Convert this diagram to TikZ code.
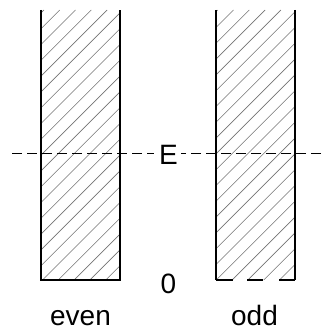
\documentclass[tikz,border=0pt]{standalone}
\usepackage{fontspec}
\setmainfont{Liberation Sans}
\begin{document}
\begin{tikzpicture}[x=1pt,y=-1pt,
  wall/.style={black,line width=1.6pt},
  hatchline/.style={gray!90!black,line width=0.6pt},
  level/.style={black,line width=0.8pt,dash pattern=on 10pt off 5pt},
  lbl/.style={font=\fontsize{28}{32}\selectfont,inner sep=0pt,anchor=base}]
\useasboundingbox (0,0) rectangle (321,331);
% hatching
\begin{scope}
  \clip (41,10) rectangle (120,280);
  \foreach \k in {-20,...,4} { \draw[hatchline] ({338.3+15.8*\k-280},280) -- ({338.3+15.8*\k-10},10); }
\end{scope}
\begin{scope}
  \clip (216,10) rectangle (295,280);
  \foreach \k in {-10,...,15} { \draw[hatchline] ({338.3+15.8*\k-280},280) -- ({338.3+15.8*\k-10},10); }
\end{scope}
% walls
\draw[wall] (41,10) -- (41,280) -- (120,280) -- (120,10);
\draw[wall] (216,10) -- (216,280);
\draw[wall] (295,10) -- (295,280);
\draw[wall] (216,280) -- (233,280);
\draw[wall] (247,280) -- (263,280);
\draw[wall] (279,280) -- (295,280);
% labels
\node[lbl] (E) at (168.5,164) {E};
\node[lbl] (zero) at (168.5,293) {0};
\node[lbl] (even) at (80.5,325) {even};
\node[lbl] (odd) at (254.5,325) {odd};
\coordinate (lstart) at (12,153);
\coordinate (lend) at (154,153);
\coordinate (rstart) at (181,153);
\coordinate (rend) at (321,153);
\draw[level] (lstart) -- (lend);
\draw[level] (rend) -- (rstart);
\end{tikzpicture}
\end{document}
